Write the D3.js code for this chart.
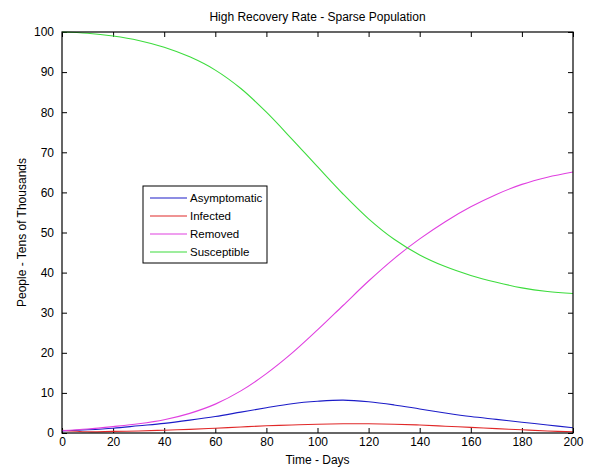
<!DOCTYPE html>
<html>

<head>
  <meta charset="utf8">
  <script src="https://d3js.org/d3.v7.min.js"></script>
  <style>
    body { margin: 0; background: #fff; }
    text {
      font-family: "Liberation Sans", Arial, sans-serif;
      font-size: 12px;
      fill: black;
    }
    .legend text { font-size: 11.5px; }
  </style>
</head>

<body>
  <svg id="chart" width="597" height="470"></svg>
  <script>
    var days = [0, 10, 20, 30, 40, 50, 60, 70, 80, 90, 100, 110, 120, 130, 140, 150, 160, 170, 180, 190, 200];
    var asymptomatic = [0.5, 0.8, 1.2, 1.8, 2.4, 3.2, 4.1, 5.2, 6.3, 7.3, 7.9, 8.2, 7.8, 7.0, 6.0, 5.0, 4.1, 3.4, 2.7, 2.0, 1.3];
    var infected = [0.7, 0.3, 0.4, 0.5, 0.7, 0.9, 1.2, 1.5, 1.8, 2.0, 2.2, 2.3, 2.3, 2.2, 2.0, 1.7, 1.4, 1.1, 0.8, 0.5, 0.3];
    var removed = [0.6, 1.0, 1.6, 2.3, 3.3, 4.9, 7.2, 10.5, 14.8, 19.9, 25.7, 31.8, 37.9, 43.5, 48.4, 52.7, 56.4, 59.5, 62.0, 63.8, 65.1];
    var susceptible = [100, 99.7, 99.0, 97.9, 96.2, 93.8, 90.5, 85.9, 80.0, 73.3, 66.4, 59.6, 53.4, 48.3, 44.4, 41.5, 39.3, 37.6, 36.2, 35.3, 34.8];
    var seriesNames = ['Asymptomatic', 'Infected', 'Removed', 'Susceptible'];
    var xTicks = [0, 20, 40, 60, 80, 100, 120, 140, 160, 180, 200];
    var yTicks = [0, 10, 20, 30, 40, 50, 60, 70, 80, 90, 100];

    var series = [
      { name: seriesNames[0], values: asymptomatic, color: '#1c1cc8' },
      { name: seriesNames[1], values: infected, color: '#e02828' },
      { name: seriesNames[2], values: removed, color: '#e040e0' },
      { name: seriesNames[3], values: susceptible, color: '#3ddc3d' }
    ];

    var chart = d3.select('#chart');
    var mLeft = 62, mRight = 573, mTop = 32, mBottom = 433;

    var x = d3.scaleLinear().domain([0, 200]).range([mLeft, mRight]);
    var y = d3.scaleLinear().domain([0, 100]).range([mBottom, mTop]);

    // ticks pointing inwards on all four sides, matlab style
    chart.append('g')
      .attr('transform', 'translate(0,' + mBottom + ')')
      .call(d3.axisBottom(x).tickValues(xTicks).tickSizeInner(-5).tickSizeOuter(0).tickPadding(4));
    chart.append('g')
      .attr('transform', 'translate(0,' + mTop + ')')
      .call(d3.axisTop(x).tickValues(xTicks).tickSizeInner(-5).tickSizeOuter(0).tickFormat(''));
    chart.append('g')
      .attr('transform', 'translate(' + mLeft + ',0)')
      .call(d3.axisLeft(y).tickValues(yTicks).tickSizeInner(-5).tickSizeOuter(0).tickPadding(8));
    chart.append('g')
      .attr('transform', 'translate(' + mRight + ',0)')
      .call(d3.axisRight(y).tickValues(yTicks).tickSizeInner(-5).tickSizeOuter(0).tickFormat(''));

    chart.selectAll('.domain').remove();
    chart.selectAll('.tick line').attr('stroke', 'black');
    chart.selectAll('.tick text').style('font-size', '12px').style('font-family', '"Liberation Sans", Arial, sans-serif');

    var line = d3.line()
      .x((d, i) => x(days[i]))
      .y((d) => y(d))
      .curve(d3.curveCatmullRom.alpha(0.5));

    chart.append('g').selectAll('path')
      .data(series)
      .enter()
      .append('path')
      .attr('d', (d) => line(d.values))
      .attr('fill', 'none')
      .attr('stroke', (d) => d.color)
      .attr('stroke-width', 1.1);

    chart.append('rect')
      .attr('x', mLeft).attr('y', mTop)
      .attr('width', mRight - mLeft).attr('height', mBottom - mTop)
      .attr('fill', 'none').attr('stroke', 'black').attr('stroke-width', 1.2);

    chart.append('text')
      .attr('x', (mLeft + mRight) / 2).attr('y', 21)
      .attr('text-anchor', 'middle')
      .text('High Recovery Rate - Sparse Population');
    chart.append('text')
      .attr('x', (mLeft + mRight) / 2).attr('y', 464)
      .attr('text-anchor', 'middle')
      .text('Time - Days');
    chart.append('text')
      .attr('transform', 'translate(26,' + (mTop + mBottom) / 2 + ') rotate(-90)')
      .attr('text-anchor', 'middle')
      .text('People - Tens of Thousands');

    // legend
    var legend = chart.append('g').attr('class', 'legend').attr('transform', 'translate(143,186)');
    legend.append('rect')
      .attr('width', 124).attr('height', 77)
      .attr('fill', 'white').attr('stroke', 'black').attr('stroke-width', 1);
    var item = legend.selectAll('.item')
      .data(series)
      .enter()
      .append('g')
      .attr('transform', (d, i) => 'translate(0,' + (12 + i * 18) + ')');
    item.append('line')
      .attr('x1', 7).attr('x2', 44)
      .attr('stroke', (d) => d.color).attr('stroke-width', 1.1);
    item.append('text')
      .attr('x', 47).attr('dy', '0.35em')
      .text((d) => d.name);
  </script>
</body>

</html>
